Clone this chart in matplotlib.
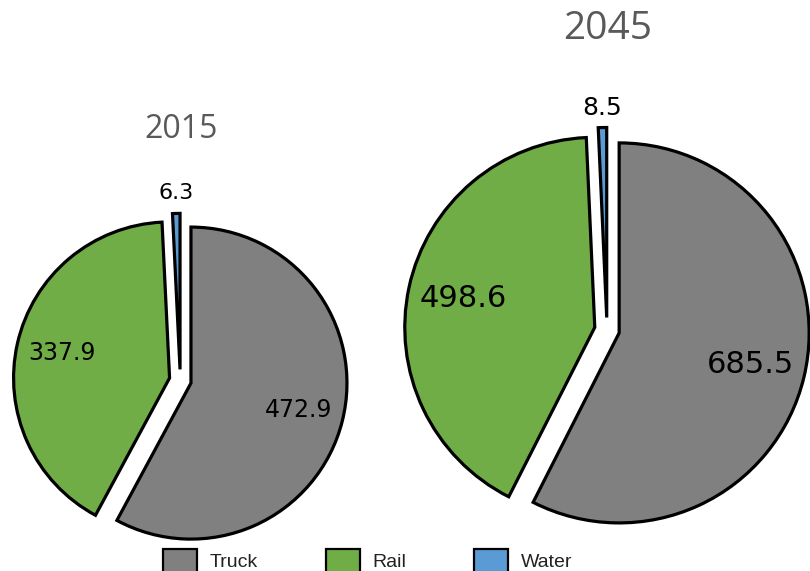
import matplotlib
matplotlib.use("Agg")
import matplotlib.pyplot as plt
from matplotlib.patches import Patch
import numpy as np

categories = ["Truck", "Rail", "Water"]
years = ["2015", "2045"]
values_2015 = [472.9, 337.9, 6.3]
values_2045 = [685.5, 498.6, 8.5]
colors = ["#808080", "#70AD47", "#5B9BD5"]

W, H = 810, 571
fig = plt.figure(figsize=(W / 100, H / 100), dpi=100)
ax = fig.add_axes([0, 0, 1, 1])

pies = [
    dict(vals=values_2015, center=(180.3, H - 380.4), radius=156, explode=11.0,
         title=years[0], title_xy=(181, H - 129), title_size=23,
         inner_size=17, outer_size=16, outer_dist=1.2),
    dict(vals=values_2045, center=(607, H - 330), radius=190, explode=12.5,
         title=years[1], title_xy=(608, H - 29), title_size=28,
         inner_size=22, outer_size=18, outer_dist=1.17),
]

for p in pies:
    wedges, _ = ax.pie(p["vals"], colors=colors, startangle=90, counterclock=False,
                       center=p["center"], radius=p["radius"],
                       explode=[p["explode"]] * len(p["vals"]),
                       wedgeprops=dict(edgecolor="black", linewidth=2.3))
    cx, cy = p["center"]
    R = p["radius"]
    for i, (w, v) in enumerate(zip(wedges, p["vals"])):
        mid = np.deg2rad((w.theta1 + w.theta2) / 2)
        if i < 2:
            d = p["explode"] + 0.71 * R
            fs = p["inner_size"]
        else:
            d = p["outer_dist"] * R
            fs = p["outer_size"]
        ax.text(cx + d * np.cos(mid), cy + d * np.sin(mid), f"{v:.1f}",
                ha="center", va="center", fontsize=fs, color="black",
                family="DejaVu Sans")
    ax.text(*p["title_xy"], p["title"], ha="center", va="center",
            fontsize=p["title_size"], color="#595959", family="Open Sans")

ax.set_xlim(0, W)
ax.set_ylim(0, H)
ax.set_aspect("equal")
ax.axis("off")

handles = [Patch(facecolor=c, edgecolor="black", linewidth=1.6) for c in colors]
leg = fig.legend(handles, categories, loc="center", ncol=3,
                 bbox_to_anchor=(367.5 / W, 1 - 561 / H), frameon=False,
                 borderpad=0, borderaxespad=0,
                 handlelength=1.75, handleheight=1.45, handletextpad=0.65,
                 columnspacing=3.5,
                 prop=dict(family="Liberation Sans", size=14))
for t in leg.get_texts():
    t.set_color("#222222")

fig.savefig("out.png", dpi=100)
